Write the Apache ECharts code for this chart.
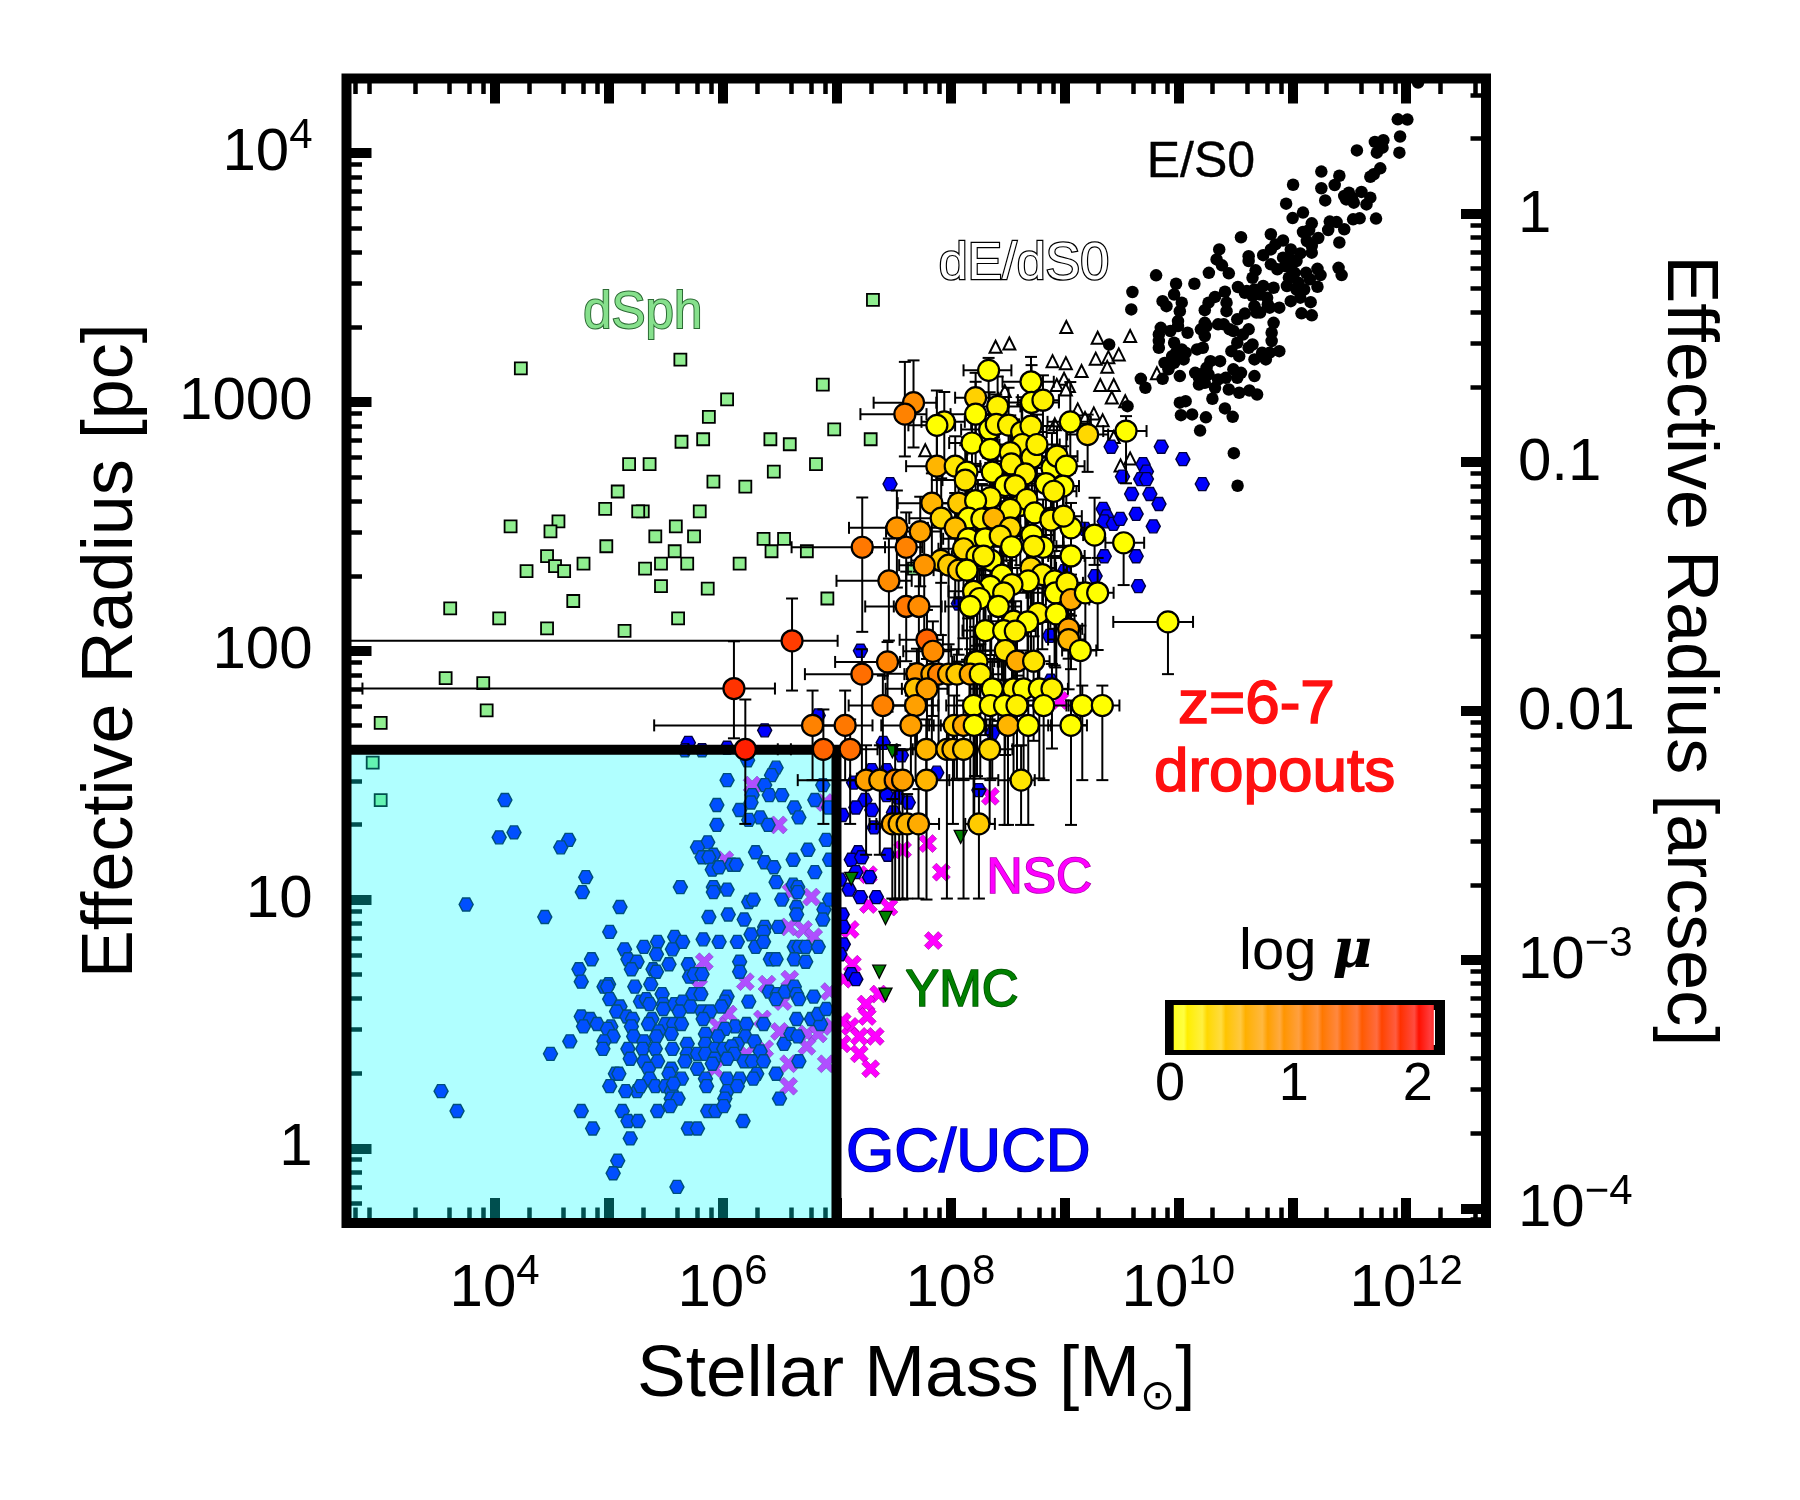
<!DOCTYPE html>
<html>
<head>
<meta charset="utf-8">
<title>Size-mass relation of z=6-7 dropouts and local stellar systems</title>
<script src="https://cdn.jsdelivr.net/npm/echarts@6/dist/echarts.min.js"></script>
<style>
  html, body { margin: 0; padding: 0; background: #fff; }
  #chart { width: 1800px; height: 1500px; }
</style>
</head>
<body>
<div id="chart"></div>
<script>
// Axis ranges, as log10 of stellar mass [Msun], effective radius [pc] and radius [arcsec].
const logMassRange = [2.7, 12.7];
const logRadiusRange = [-0.3, 4.3];
const logArcsecRange = [-4.059, 0.543];
const logMuRange = [0, 2.18];

// Tick positions.
const massMajorTicks = [1e4, 1e5, 1e6, 1e7, 1e8, 1e9, 1e10, 1e11, 1e12];
const massMinorTicks = [6e2, 8e2, 2e3, 4e3, 6e3, 8e3, 2e4, 4e4, 6e4, 8e4, 2e5, 4e5, 6e5, 8e5, 2e6, 4e6, 6e6, 8e6,
  2e7, 4e7, 6e7, 8e7, 2e8, 4e8, 6e8, 8e8, 2e9, 4e9, 6e9, 8e9, 2e10, 4e10, 6e10, 8e10, 2e11, 4e11, 6e11, 8e11, 2e12, 4e12];
const massLabelTicks = [1e4, 1e6, 1e8, 1e10, 1e12];
const radiusMajorTicks = [1, 10, 100, 1000, 10000];
const radiusMinorTicks = [0.6, 0.7, 0.8, 0.9, 2, 3, 4, 5, 6, 7, 8, 9, 20, 30, 40, 50, 60, 70, 80, 90,
  200, 300, 400, 500, 600, 700, 800, 900, 2000, 3000, 4000, 5000, 6000, 7000, 8000, 9000];
const arcsecMajorTicks = [1e-4, 1e-3, 0.01, 0.1, 1];
const arcsecMinorTicks = [9e-5, 2e-4, 3e-4, 4e-4, 5e-4, 6e-4, 7e-4, 8e-4, 9e-4, 2e-3, 3e-3, 4e-3, 5e-3, 6e-3, 7e-3, 8e-3, 9e-3,
  0.02, 0.03, 0.04, 0.05, 0.06, 0.07, 0.08, 0.09, 0.2, 0.3, 0.4, 0.5, 0.6, 0.7, 0.8, 0.9, 2, 3];
const muTicks = [0, 1, 2];

// Boundary of the shaded globular-cluster regime.
const regimeMass = 1e7;
const regimeRadius = 40;

// Each point: [log10 mass, log10 radius].
const dSph = [
  [7.32,3.41],[4.23,3.135],[5.63,3.17],[6.88,3.07],[6.04,3.01],[5.88,2.94],[6.98,2.89],[7.30,2.85],[5.64,2.84],[5.83,2.85],
  [6.42,2.85],[6.59,2.83],[5.18,2.75],[5.36,2.75],[6.82,2.75],[6.45,2.72],[5.92,2.68],[6.20,2.66],[5.08,2.64],[4.97,2.57],
  [5.30,2.56],[5.26,2.56],[5.80,2.56],[4.56,2.52],[4.14,2.50],[4.49,2.48],[5.59,2.50],[5.41,2.46],[5.75,2.46],[6.36,2.45],
  [6.54,2.45],[5.58,2.40],[6.43,2.40],[6.74,2.40],[4.98,2.42],[4.46,2.38],[4.53,2.34],[4.61,2.32],[4.78,2.35],[4.28,2.32],
  [5.32,2.33],[5.46,2.35],[5.69,2.35],[6.15,2.35],[5.46,2.26],[5.87,2.25],[4.69,2.20],[3.61,2.17],[4.04,2.13],[4.46,2.09],
  [5.14,2.08],[5.61,2.13],[6.92,2.21],[7.68,2.33],[3.93,1.76],[3.00,1.71],[2.93,1.55],[3.00,1.40],[3.57,1.89],[3.90,1.87]
];

const dEdS0 = [
  [9.017,3.301],[9.292,3.258],[9.577,3.265],[8.396,3.222],[8.517,3.235],[8.896,3.164],[9.013,3.156],[9.275,3.174],
  [9.386,3.180],[9.477,3.191],[9.376,3.141],[9.151,3.124],[9.812,3.115],[8.997,3.093],[8.933,3.068],[9.040,3.064],
  [9.013,3.050],[9.315,3.068],[9.433,3.068],[9.416,3.018],[9.534,3.003],[8.477,3.044],[9.117,2.970],[9.258,2.954],
  [9.181,2.936],[9.336,2.926],[8.916,2.910],[9.433,2.859],[7.779,2.806],[9.577,2.773],[9.493,2.745]
];

const ellipticals = [
  [11.926,4.136],[12.010,4.135],[11.946,4.067],[11.940,4.002],[11.725,4.045],[11.799,4.052],[11.792,4.022],[11.742,4.002],
  [11.567,4.011],[11.772,3.939],[11.685,3.905],[11.715,3.915],[11.255,3.926],[11.413,3.909],[11.372,3.872],[11.255,3.859],
  [11.007,3.873],[11.289,3.810],[11.497,3.841],[11.456,3.828],[11.523,3.821],[11.607,3.844],[11.685,3.821],[11.651,3.794],
  [11.540,3.801],[11.473,3.814],[10.946,3.797],[11.094,3.761],[11.003,3.739],[11.534,3.734],[11.591,3.738],[11.735,3.737],
  [11.329,3.725],[11.389,3.723],[11.171,3.718],[11.094,3.683],[11.148,3.691],[11.315,3.691],[11.456,3.694],[10.812,3.674],
  [10.550,3.662],[10.919,3.649],[10.852,3.633],[11.228,3.659],[11.128,3.647],[11.413,3.641],[10.359,3.613],[10.745,3.590],
  [10.812,3.613],[10.987,3.613],[11.171,3.627],[11.070,3.597],[10.919,3.580],[11.171,3.600],[10.617,3.586],[10.617,3.566],
  [10.336,3.573],[10.383,3.549],[10.812,3.553],[10.987,3.573],[11.037,3.566],[10.869,3.533],[10.936,3.546],[11.221,3.535],
  [11.406,3.539],[11.433,3.510],[11.248,3.510],[11.121,3.519],[11.154,3.493],[11.221,3.463],[10.443,3.517],[10.268,3.519],
  [10.678,3.529],[10.651,3.499],[10.970,3.499],[9.805,3.509],[10.141,3.475],[9.980,3.475],[9.963,3.432],[9.597,3.442],
  [10.523,3.462],[10.601,3.446],[10.668,3.452],[10.745,3.466],[10.836,3.459],[10.953,3.466],[11.037,3.452],[11.104,3.452],
  [11.070,3.419],[10.987,3.405],[10.886,3.379],[10.779,3.419],[10.718,3.432],[10.651,3.426],[10.409,3.443],[10.322,3.422],
  [10.265,3.399],[10.232,3.369],[10.423,3.399],[10.423,3.365],[9.862,3.405],[9.896,3.385],[10.030,3.399],[10.013,3.365],
  [9.587,3.372],[11.161,3.401],[11.081,3.356],[11.171,3.348],[10.802,3.379],[10.718,3.359],[10.668,3.385],[10.584,3.355],
  [10.517,3.332],[10.836,3.318],[10.399,3.312],[10.450,3.292],[10.232,3.318],[10.198,3.292],[9.997,3.325],[9.846,3.298],
  [9.829,3.271],[9.930,3.285],[10.081,3.278],[10.232,3.265],[10.617,3.292],[10.567,3.271],[10.819,3.278],[10.819,3.245],
  [9.829,3.245],[9.829,3.218],[9.963,3.238],[10.064,3.198],[9.980,3.198],[10.215,3.218],[10.164,3.211],[10.517,3.238],
  [10.466,3.204],[10.651,3.231],[10.617,3.218],[10.735,3.198],[10.802,3.198],[10.886,3.204],[10.534,3.184],[10.768,3.171],
  [10.668,3.171],[10.366,3.164],[10.282,3.164],[10.248,3.137],[9.879,3.157],[10.047,3.171],[9.963,3.157],[9.862,3.093],
  [9.913,3.131],[10.013,3.104],[10.148,3.117],[10.198,3.111],[10.265,3.111],[10.550,3.117],[10.517,3.097],[10.668,3.104],
  [10.416,3.097],[10.349,3.090],[10.181,3.070],[10.232,3.077],[10.322,3.057],[10.443,3.050],[10.534,3.037],[10.624,3.046],
  [10.691,3.030],[9.671,3.093],[9.711,3.057],[10.299,3.013],[10.013,2.997],[10.064,3.003],[10.409,2.974],[10.023,2.947],
  [10.121,2.950],[10.242,2.938],[10.477,2.940],[10.191,2.885],[9.554,2.983],[9.393,3.231],[10.487,2.794],[10.520,2.663],
  [12.104,4.284],[10.987,3.540],[11.020,3.519],[11.054,3.479],[10.584,3.439],[10.785,3.392],[10.685,3.359],[10.349,3.312],
  [10.483,3.285],[10.248,3.305],[9.997,3.305],[10.030,3.211],[9.946,3.184],[10.181,3.097],[10.483,3.131]
];

const globularClusters = [
  [4.09,1.40],[4.04,1.25],[4.17,1.27],[4.65,1.24],[4.58,1.21],[4.80,1.09],[4.77,1.03],[3.75,0.98],[4.44,0.93],[5.10,0.97],
  [5.01,0.87],[3.53,0.23],[3.67,0.15],[4.76,0.15],[5.08,-0.05],[5.04,-0.10],[5.60,-0.155],[4.86,0.08],[5.19,0.04],[5.12,0.15],
  [5.17,0.11],[5.26,0.11],[5.43,0.15],[5.70,0.08],[5.78,0.08],[5.87,0.15],[5.94,0.15],[6.18,0.11],[6.50,0.20],[6.47,0.30],
  [4.49,0.38],[4.66,0.43],[6.47,1.53],[6.43,1.50],[6.04,1.48],[6.37,1.46],[6.26,1.42],[6.25,1.39],[6.41,1.42],[6.52,1.42],
  [5.95,1.38],[6.15,1.36],[6.33,1.33],[6.23,1.32],[6.40,1.30],[5.95,1.30],[6.63,1.37],[6.67,1.33],[6.81,1.40],[6.88,1.46],
  [6.93,1.37],[5.87,1.23],[5.78,1.21],[5.82,1.17],[5.92,1.18],[5.88,1.17],[5.91,1.12],[5.97,1.13],[6.08,1.14],[6.12,1.14],
  [6.29,1.19],[6.37,1.15],[6.45,1.13],[6.62,1.16],[6.75,1.20],[6.91,1.24],[6.94,1.16],[6.81,1.11],[5.63,1.05],[5.92,1.05],
  [5.92,1.03],[6.04,1.04],[6.47,1.07],[6.62,1.06],[6.66,1.05],[6.66,1.03],[6.23,0.99],[6.27,1.00],[6.52,1.00],[6.65,0.97],
  [6.65,0.94],[5.88,0.93],[6.05,0.94],[6.19,0.92],[6.89,0.96],[6.88,0.92],[6.94,1.00],[6.25,0.86],[6.37,0.89],[6.36,0.87],
  [6.49,0.89],[5.83,0.84],[5.97,0.83],[6.13,0.83],[6.29,0.81],[6.36,0.83],[6.63,0.81],[6.67,0.81],[6.73,0.81],[6.84,0.81],
  [5.58,0.85],[5.65,0.83],[5.43,0.83],[5.56,0.80],[5.31,0.81],[5.14,0.80],[5.42,0.78],[6.63,0.76],[6.42,0.76],[6.47,0.76],
  [6.15,0.75],[6.73,0.75],[4.85,0.76],[4.74,0.72],[4.76,0.67],[5.17,0.76],[5.25,0.75],[5.20,0.72],[5.53,0.74],[5.39,0.72],
  [5.42,0.71],[5.70,0.74],[6.15,0.71],[5.71,0.69],[5.75,0.70],[5.82,0.70],[5.23,0.65],[5.37,0.66],[4.96,0.65],[5.00,0.66],
  [4.99,0.65],[5.01,0.60],[5.10,0.57],[5.07,0.55],[5.47,0.62],[5.74,0.62],[5.81,0.62],[6.41,0.63],[6.48,0.62],[6.47,0.60],
  [6.55,0.63],[6.63,0.65],[6.65,0.62],[6.67,0.60],[6.80,0.61],[6.23,0.59],[6.04,0.61],[6.02,0.59],[5.28,0.59],[5.33,0.60],
  [5.36,0.58],[4.76,0.53],[4.84,0.52],[4.90,0.50],[4.78,0.49],[5.02,0.49],[4.99,0.48],[5.04,0.45],[4.96,0.43],[4.95,0.40],
  [5.16,0.53],[5.21,0.52],[5.20,0.49],[5.48,0.58],[5.58,0.58],[5.65,0.59],[5.72,0.57],[5.48,0.56],[5.62,0.55],[5.99,0.57],
  [5.82,0.55],[5.89,0.55],[5.38,0.52],[5.35,0.50],[5.50,0.50],[5.57,0.50],[5.64,0.50],[5.83,0.52],[6.11,0.49],[6.21,0.50],
  [6.36,0.50],[6.65,0.52],[6.78,0.52],[6.86,0.50],[6.84,0.54],[6.91,0.56],[6.02,0.48],[5.96,0.45],[5.85,0.46],[5.55,0.46],
  [5.44,0.47],[5.42,0.45],[5.22,0.45],[5.31,0.43],[5.69,0.42],[6.20,0.45],[6.28,0.43],[6.54,0.42],[6.60,0.46],[6.66,0.45],
  [5.17,0.40],[5.19,0.36],[5.30,0.40],[5.41,0.40],[5.56,0.40],[5.69,0.38],[5.85,0.42],[5.93,0.40],[6.01,0.40],[6.13,0.42],
  [6.08,0.41],[6.10,0.38],[6.33,0.39],[5.31,0.35],[5.43,0.35],[5.35,0.32],[5.55,0.32],[5.67,0.35],[5.78,0.38],[5.85,0.38],
  [5.93,0.36],[6.04,0.36],[6.19,0.35],[6.26,0.35],[6.36,0.35],[6.67,0.35],[5.78,0.32],[5.91,0.34],[5.53,0.30],[5.64,0.28],
  [5.06,0.30],[5.09,0.30],[5.01,0.25],[5.36,0.28],[5.25,0.23],[5.28,0.25],[5.41,0.25],[5.50,0.25],[5.55,0.23],[5.57,0.26],
  [5.85,0.28],[5.86,0.25],[6.04,0.28],[6.15,0.28],[6.30,0.30],[6.27,0.28],[6.04,0.23],[6.13,0.25],[5.55,0.20],[5.61,0.20],
  [5.54,0.17],[6.02,0.20],[6.01,0.17],[5.15,0.23],
  [7.19,1.19],[7.13,1.16],[7.22,1.17],[7.17,1.11],[7.29,1.09],[7.11,1.04],[7.21,1.01],[7.35,1.01],[7.03,1.08],[7.45,1.18],
  [8.25,1.44],[7.41,1.63],[7.57,1.58],[7.31,1.52],[7.44,1.52],[7.15,1.47],[7.88,1.51],[7.25,1.40],[7.44,1.42],[7.54,1.41],
  [7.63,1.39],[7.17,1.37],[7.31,1.36],[7.50,1.35],[7.05,1.34],[7.33,1.29],[7.05,0.94],[7.06,0.89],[7.06,0.82],[7.03,0.78],
  [7.13,0.70],[7.17,0.68],[8.37,1.67],[7.47,2.67],[9.41,2.82],[9.85,2.82],[10.04,2.77],[10.21,2.67],[9.51,2.70],[9.69,2.75],
  [9.72,2.72],[9.67,2.69],[9.72,2.69],[9.59,2.63],[9.75,2.63],[9.83,2.59],[9.63,2.55],[9.34,2.57],[9.37,2.54],[9.35,2.52],
  [9.43,2.51],[9.49,2.53],[9.78,2.50],[9.35,2.38],[9.63,2.38],[9.27,2.30],[9.65,2.26],[9.00,2.32],[8.87,2.06],[7.21,2.00],
  [9.18,2.49],[8.07,2.19],[8.88,1.88],[5.70,1.63],[5.82,1.60],[6.04,1.61],[5.67,1.60],[6.37,1.68],[6.84,1.74],[6.22,1.56]
];

const nuclearClusters = [
  [6.26,1.46],[6.49,1.30],[6.02,1.16],[6.78,1.01],[6.58,0.89],[6.71,0.88],[6.80,0.85],[5.84,0.75],[6.20,0.67],[6.39,0.66],
  [6.59,0.68],[5.79,0.65],[6.53,0.59],[6.05,0.54],[6.35,0.52],[5.96,0.49],[6.50,0.47],[6.74,0.46],[6.84,0.46],[6.74,0.41],
  [6.37,0.40],[6.21,0.38],[6.58,0.34],[5.93,0.32],[6.91,0.34],[6.58,0.25],[6.94,0.63],[6.96,0.49],[6.90,1.39],[6.60,1.03],
  [8.35,1.415],[7.80,1.225],[7.58,1.20],[7.92,1.11],[7.28,1.10],[7.46,0.97],[7.28,0.98],[7.85,0.835],[7.12,0.88],[7.14,0.74],
  [7.06,0.68],[7.37,0.62],[7.26,0.58],[7.27,0.53],[7.12,0.49],[7.34,0.45],[7.20,0.45],[7.20,0.38],[7.30,0.32],[7.05,0.51],
  [7.05,0.42],[8.96,1.80]
];

const youngClusters = [[8.09,1.252],[7.13,1.083],[7.43,0.926],[7.375,0.71],[7.43,0.618],[7.49,1.596]];

// Each dropout: [log10 mass, log10 radius, log10 magnification, mass err low, mass err high, radius err low, radius err high].
const dropouts = [
  [8.335,3.127,0,.22,.2,.18,.05],[8.707,3.081,0,.25,.2,.16,.1],[7.676,2.997,1.0,.35,.2,.18,.17],[7.600,2.951,1.1,.39,.19,.17,.21],
  [7.946,2.920,.1,.2,.18,.2,.12],[7.881,2.906,0,.25,.16,.22,.14],[8.221,3.017,.35,.18,.2,.2,.1],[8.414,2.982,.1,.24,.2,.22,.12],
  [8.712,2.998,0,.2,.24,.16,.15],[8.812,3.007,.1,.22,.14,.2,.1],[8.221,2.951,0,.22,.22,.2,.13],[9.052,2.920,0,.2,.18,.14,.16],
  [9.204,2.869,.3,.18,.18,.15,.08],[9.541,2.883,0,.2,.18,.21,.06],[8.344,2.889,0,.25,.2,.24,.15],[8.402,2.910,.1,.22,.2,.2,.12],
  [8.510,2.907,.1,.22,.2,.2,.15],[8.625,2.879,.1,.2,.22,.22,.14],[8.707,2.903,.1,.25,.2,.22,.16],[8.189,2.835,0,.2,.2,.22,.18],
  [8.630,2.829,.1,.2,.2,.2,.16],[8.350,2.809,0,.2,.25,.24,.14],[8.525,2.796,.1,.24,.2,.2,.15],[8.715,2.776,.1,.2,.22,.24,.12],
  [8.759,2.829,.1,.22,.2,.25,.12],[7.881,2.742,.6,.27,.2,.22,.16],[8.042,2.742,.2,.2,.22,.24,.12],[8.145,2.718,0,.22,.2,.25,.14],
  [8.130,2.686,.2,.2,.22,.25,.14],[8.367,2.718,0,.22,.2,.26,.18],[8.534,2.751,.1,.2,.22,.22,.14],[8.657,2.711,.1,.22,.24,.25,.16],
  [8.891,2.735,0,.22,.2,.24,.14],[8.935,2.782,.1,.22,.18,.22,.12],[9.017,2.742,0,.18,.16,.2,.16],[8.838,2.672,0,.24,.2,.26,.14],
  [8.988,2.662,0,.2,.14,.24,.16],[8.481,2.664,0,.24,.2,.22,.14],[8.569,2.664,.1,.22,.22,.24,.15],[8.906,2.641,.1,.22,.2,.22,.14],
  [7.837,2.593,.6,.3,.2,.24,.12],[8.072,2.593,.4,.22,.2,.24,.14],[8.350,2.615,.1,.2,.2,.28,.14],[8.221,2.603,0,.22,.2,.26,.14],
  [8.613,2.584,0,.22,.2,.24,.14],[8.671,2.608,.1,.2,.22,.26,.16],[8.525,2.568,.1,.2,.2,.28,.16],[8.739,2.554,0,.22,.2,.3,.14],
  [7.919,2.533,.3,.28,.2,.26,.16],[8.159,2.533,0,.22,.2,.28,.15],[8.276,2.530,.1,.22,.2,.3,.14],[8.379,2.533,.6,.2,.22,.3,.15],
  [8.885,2.533,0,.2,.2,.26,.16],[8.882,2.525,.1,.2,.2,.26,.14],[9.058,2.494,0,.24,.12,.22,.1],[8.993,2.541,.1,.22,.16,.24,.14],
  [7.530,2.494,.9,.42,.16,.24,.15],[7.735,2.479,.75,.3,.18,.22,.14],[8.042,2.494,.5,.24,.2,.28,.14],[8.525,2.494,.3,.22,.2,.3,.14],
  [8.715,2.465,0,.2,.2,.32,.14],[9.265,2.465,0,.1,.08,.12,.15],[9.520,2.434,0,.16,.18,.17,.03],[8.156,2.450,0,.22,.2,.32,.14],
  [8.306,2.450,0,.2,.2,.34,.14],[8.437,2.461,.2,.2,.22,.32,.14],[7.612,2.416,1.1,.3,.14,.24,.14],[7.226,2.416,1.2,.62,.2,.34,.2],
  [8.537,2.418,0,.22,.2,.34,.14],[8.812,2.416,0,.22,.18,.3,.15],[8.730,2.420,.1,.22,.2,.3,.15],[8.115,2.410,.3,.22,.2,.36,.14],
  [9.058,2.381,0,.2,.12,.24,.12],[7.916,2.363,.4,.26,.18,.3,.14],[7.770,2.344,.9,.22,.2,.3,.14],[8.233,2.380,.1,.22,.2,.36,.14],
  [8.358,2.363,0,.2,.22,.38,.14],[8.291,2.380,.1,.2,.2,.38,.16],[7.984,2.344,.4,.22,.2,.34,.15],[8.072,2.324,.4,.22,.2,.34,.14],
  [8.145,2.324,0,.22,.22,.36,.12],[8.452,2.304,0,.2,.2,.42,.14],[7.460,2.281,1.0,.46,.2,.24,.17],[8.707,2.333,.3,.2,.22,.34,.14],
  [8.806,2.306,.1,.22,.2,.3,.14],[8.683,2.281,0,.2,.2,.32,.15],[8.914,2.281,0,.2,.16,.34,.12],[8.350,2.259,0,.2,.22,.42,.12],
  [8.540,2.266,.1,.22,.2,.42,.14],[8.203,2.239,.1,.22,.2,.44,.12],[8.467,2.233,.1,.2,.2,.4,.15],[8.920,2.233,0,.22,.18,.3,.14],
  [9.023,2.273,.1,.2,.14,.26,.12],[9.058,2.206,.7,.22,.16,.28,.1],[9.184,2.233,0,.16,.12,.23,.14],[9.292,2.233,0,.1,.14,.23,.14],
  [8.256,2.210,0,.22,.2,.44,.12],[8.174,2.178,0,.22,.2,.46,.14],[8.420,2.178,0,.2,.2,.46,.12],[7.612,2.178,1.2,.36,.16,.22,.14],
  [7.723,2.178,1.0,.22,.2,.26,.14],[8.768,2.150,.1,.22,.18,.28,.1],[8.929,2.148,0,.2,.16,.3,.14],[8.554,2.119,.1,.22,.2,.32,.12],
  [8.677,2.116,0,.2,.2,.3,.12],[9.909,2.116,0,.48,.22,.21,.02],[8.306,2.081,0,.2,.2,.42,.12],[8.467,2.081,0,.2,.2,.36,.14],
  [8.569,2.079,.1,.2,.18,.36,.12],[7.794,2.044,1.4,.24,.14,.2,.12],[7.846,1.998,1.0,.26,.16,.26,.12],[9.037,2.088,.8,.18,.12,.12,.1],
  [9.037,2.045,.6,.18,.14,.2,.1],[9.140,2.001,0,.16,.14,.3,.1],[8.481,2.001,.2,.2,.2,.42,.12],[8.584,1.958,.7,.2,.16,.34,.12],
  [8.730,1.958,.2,.16,.14,.32,.1],[7.448,1.955,1.1,.46,.11,.2,.08],[7.223,1.906,1.3,.5,.2,.4,.1],[8.215,1.956,0,.2,.2,.46,.14],
  [8.233,1.956,.1,.2,.2,.46,.1],[7.706,1.908,.9,.26,.16,.3,.1],[7.837,1.906,.7,.22,.2,.3,.12],[7.896,1.906,1.1,.3,.2,.3,.1],
  [7.984,1.906,.6,.22,.2,.3,.12],[8.057,1.906,.4,.22,.2,.42,.1],[8.174,1.906,.7,.2,.2,.42,.1],[8.262,1.906,.1,.2,.2,.42,.12],
  [7.691,1.847,.45,.26,.14,.24,.1],[7.794,1.847,.8,.22,.18,.24,.12],[8.367,1.847,0,.2,.2,.36,.12],[8.554,1.847,.1,.18,.2,.36,.1],
  [8.642,1.847,0,.2,.16,.36,.12],[8.780,1.847,0,.2,.14,.36,.1],[8.891,1.847,.1,.14,.14,.24,.1],
  [7.407,1.780,1.1,.3,.2,.3,.12],[7.694,1.780,.8,.24,.2,.3,.1],[8.203,1.780,0,.24,.2,.48,.12],[8.350,1.780,.05,.22,.2,.3,.1],
  [8.475,1.780,0,.2,.2,.48,.1],[8.584,1.780,.1,.22,.16,.3,.12],[8.818,1.780,0,.18,.2,.3,.1],[9.157,1.780,0,.12,.1,.3,.08],
  [9.333,1.780,0,.1,.15,.3,.08],
  [6.79,1.700,1.1,1.39,.26,.22,.14],[7.076,1.700,1.2,.26,.24,.22,.14],[7.653,1.700,.8,.26,.2,.22,.12],[8.033,1.700,.4,.22,.2,.22,.12],
  [8.115,1.700,.7,.2,.2,.22,.1],[8.209,1.700,0,.2,.22,.4,.12],[8.505,1.700,.6,.2,.2,.4,.12],[8.683,1.700,0,.22,.2,.4,.1],
  [9.058,1.700,0,.2,.14,.4,.1],
  [6.885,1.604,1.4,.4,.26,.3,.16],[7.12,1.604,1.3,.3,.24,.3,.12],[7.788,1.604,.6,.26,.2,.3,.12],[7.969,1.604,.5,.3,.2,.6,.1],
  [8.022,1.604,.5,.26,.2,.3,.12],[8.115,1.604,.4,.22,.2,.6,.1],[8.344,1.604,.3,.2,.2,.3,.12],
  [7.26,1.480,.8,.6,.16,.3,.14],[7.38,1.480,.7,.26,.16,.3,.14],[7.515,1.480,1.0,.22,.2,.48,.14],[7.58,1.480,.8,.22,.16,.48,.12],
  [7.79,1.480,.6,.2,.2,.48,.12],[8.62,1.480,.2,.2,.12,.18,.14],
  [7.49,1.304,.7,.2,.16,.3,.1],[7.55,1.304,.6,.2,.18,.3,.14],[7.62,1.304,.6,.2,.16,.3,.12],[7.72,1.304,.7,.2,.18,.3,.14],
  [8.25,1.304,.4,.12,.14,.3,.14],
  [6.61,2.040,1.8,3.9,.4,.2,.17],[6.10,1.848,1.9,3.26,.36,.2,.19],[6.20,1.604,2.1,.5,.4,.3,.2]
];

// Colour key: edges of the colour bands in log mu, with the deep and pale shade of each band.
const muBandEdges = [0.03, 0.14, 0.30, 0.45, 0.61, 0.79, 0.92, 1.08, 1.23, 1.39, 1.55, 1.71, 1.86, 2.01, 2.13];
const muBandDeep = ['#ffff20', '#ffee00', '#ffd800', '#ffc400', '#ffb000', '#ffa000', '#ff9500', '#ff8400', '#ff7800', '#ff6c00', '#ff5a00', '#ff4400', '#ff3000', '#ff1000', '#ff3030'];
const muBandPale = ['#ffff40', '#fff040', '#ffdc40', '#ffc840', '#ffb840', '#ffaa40', '#ffa040', '#ff9440', '#ff8840', '#ff7c40', '#ff6c40', '#ff5c40', '#ff4c40', '#ff3c3c', '#ff3c3c'];
// Marker colour against log mu.
const muColorStops = [[0, '#ffff00'], [0.45, '#ffc400'], [1, '#ff8c00'], [1.5, '#ff5a00'], [2.2, '#ff1500']];

// Population names with their position on the plot, as [text, log mass, log radius, colour, size, outline colour, outline width].
const populationLabels = [
  ['dSph', 5.30, 3.354, '#86e08c', 51, '#2c6a34', 2],
  ['dE/dS0', 8.645, 3.553, '#ffffff', 52, '#000000', 2.4],
  ['E/S0', 10.198, 3.958, '#000000', 50, '#000000', 0.4],
  ['z=6-7', 10.685, 1.78, '#ff1010', 62, '#ff1010', 1.6],
  ['dropouts', 10.845, 1.505, '#ff1010', 62, '#ff1010', 1.6],
  ['NSC', 8.78, 1.08, '#ff00ff', 50, '#b000b0', 1.6],
  ['YMC', 8.10, 0.628, '#008000', 51, '#005000', 1.6],
  ['GC/UCD', 8.157, -0.024, '#0000ff', 62, '#000090', 1.6]
];

const tickFont = '"Liberation Sans", sans-serif';
const textFont = '"Liberation Sans", sans-serif';
const pow10 = (v) => Math.pow(10, v);
const toLinear = (rows) => rows.map((p) => [pow10(p[0]), pow10(p[1])]);
const massMin = pow10(logMassRange[0]), massMax = pow10(logMassRange[1]);
const radiusMin = pow10(logRadiusRange[0]), radiusMax = pow10(logRadiusRange[1]);

function muColor(mu) {
  for (let i = 1; i < muColorStops.length; i++) {
    if (mu <= muColorStops[i][0]) {
      const [a, ca] = muColorStops[i - 1];
      const [b, cb] = muColorStops[i];
      return echarts.color.lerp((mu - a) / (b - a), [ca, cb]);
    }
  }
  return muColorStops[muColorStops.length - 1][1];
}

const powerLabel = (v) => {
  const e = Math.round(Math.log10(v));
  return '{base|10}{sup|' + String(e).replace('-', '\u2212') + '}';
};
const tickRich = {
  base: { fontFamily: tickFont, fontSize: 60, lineHeight: 68, color: '#000', verticalAlign: 'bottom' },
  plain: { fontFamily: tickFont, fontSize: 60, lineHeight: 68, color: '#000', verticalAlign: 'bottom' },
  sup: { fontFamily: tickFont, fontSize: 42, lineHeight: 68, color: '#000', verticalAlign: 'top' }
};

function tickAxis(kind, gridIndex, position, logRange, ticks, length, width, extra) {
  return Object.assign({
    type: 'log', logBase: 10, gridIndex, position,
    min: pow10(logRange[0]), max: pow10(logRange[1]),
    axisLine: { show: false, onZero: false },
    axisTick: { show: true, inside: true, length, customValues: ticks, lineStyle: { color: '#000', width, cap: 'butt' } },
    axisLabel: { show: false },
    splitLine: { show: false },
    minorTick: { show: false }, minorSplitLine: { show: false }
  }, extra || {});
}

const massLabelExtra = {
  name: 'Stellar Mass [M{sun|\u2299}]',
  nameLocation: 'middle', nameGap: 110,
  nameTextStyle: {
    fontFamily: textFont, fontSize: 73, color: '#000',
    rich: { sun: { fontFamily: '"DejaVu Sans", sans-serif', fontSize: 42, color: '#000', verticalAlign: 'bottom', padding: [44, 0, 0, 0] } }
  },
  axisLabel: {
    show: true, margin: 28, customValues: massLabelTicks,
    formatter: powerLabel, rich: tickRich
  }
};
const radiusLabelExtra = {
  name: 'Effective Radius [pc]',
  nameLocation: 'middle', nameGap: 198, nameRotate: 90,
  nameTextStyle: { fontFamily: textFont, fontSize: 72, color: '#000' },
  axisLabel: {
    show: true, margin: 34, customValues: radiusMajorTicks, padding: [0, 0, 7, 0],
    formatter: (v) => v >= 10000 ? powerLabel(v) : '{plain|' + Math.round(v) + '}',
    rich: tickRich
  }
};
const arcsecLabelExtra = {
  name: 'Effective Radius [arcsec]',
  nameLocation: 'middle', nameGap: 166, nameRotate: -90,
  nameTextStyle: { fontFamily: textFont, fontSize: 72, color: '#000' },
  axisLabel: {
    show: true, margin: 32, customValues: arcsecMajorTicks, padding: [0, 0, 5, 0],
    formatter: (v) => {
      if (v >= 0.999) return '{plain|1}';
      if (v >= 0.05) return '{plain|0.1}';
      if (v >= 0.005) return '{plain|0.01}';
      return powerLabel(v);
    },
    rich: tickRich
  }
};

const xAxes = [
  tickAxis('x', 0, 'bottom', logMassRange, massMajorTicks, 25, 10, massLabelExtra),
  tickAxis('x', 0, 'bottom', logMassRange, massMinorTicks, 15.5, 4.5),
  tickAxis('x', 0, 'top', logMassRange, massMajorTicks, 25, 10),
  tickAxis('x', 0, 'top', logMassRange, massMinorTicks, 15.5, 4.5),
  {
    type: 'value', gridIndex: 1, position: 'bottom', min: logMuRange[0], max: logMuRange[1],
    axisLine: { show: false, onZero: false }, splitLine: { show: false },
    axisTick: { show: true, inside: true, length: 8, customValues: muTicks, lineStyle: { color: '#000', width: 1 } },
    axisLabel: { show: true, margin: 8, customValues: muTicks, fontFamily: tickFont, fontSize: 54, color: '#000', hideOverlap: false }
  }
];
const yAxes = [
  tickAxis('y', 0, 'left', logRadiusRange, radiusMajorTicks, 25, 10, radiusLabelExtra),
  tickAxis('y', 0, 'left', logRadiusRange, radiusMinorTicks, 15.5, 4.5),
  tickAxis('y', 0, 'right', logArcsecRange, arcsecMajorTicks, 25, 10, arcsecLabelExtra),
  tickAxis('y', 0, 'right', logArcsecRange, arcsecMinorTicks, 15.5, 4.5),
  { type: 'value', gridIndex: 1, min: 0, max: 1, show: false }
];

const hexagon = 'path://M-2 0 L-1 1.73 L1 1.73 L2 0 L1 -1.73 L-1 -1.73 Z';
const cross = 'path://M-5 -2.7 L-2.7 -5 L0 -2.3 L2.7 -5 L5 -2.7 L2.3 0 L5 2.7 L2.7 5 L0 2.3 L-2.7 5 L-5 2.7 L-2.3 0 Z';

function pointSeries(name, rows, z, symbol, symbolSize, itemStyle, extra) {
  return Object.assign({
    name, type: 'scatter', xAxisIndex: 0, yAxisIndex: 0, data: toLinear(rows), z, symbol, symbolSize,
    itemStyle: Object.assign({ opacity: 1 }, itemStyle),
    silent: true, clip: false, animation: false, large: false
  }, extra || {});
}

function renderRect(fill, stroke, lineWidth) {
  return (params, api) => {
    const a = api.coord([api.value(0), api.value(1)]);
    const b = api.coord([api.value(2), api.value(3)]);
    return {
      type: 'rect',
      shape: { x: Math.min(a[0], b[0]), y: Math.min(a[1], b[1]), width: Math.abs(b[0] - a[0]), height: Math.abs(b[1] - a[1]) },
      style: { fill, stroke, lineWidth }
    };
  };
}

function renderErrorBars(params, api) {
  const cap = 6;
  const c = api.coord([api.value(0), api.value(1)]);
  const left = api.coord([api.value(2), api.value(1)])[0];
  const right = api.coord([api.value(3), api.value(1)])[0];
  const low = api.coord([api.value(0), api.value(4)])[1];
  const high = api.coord([api.value(0), api.value(5)])[1];
  const style = { stroke: '#000', lineWidth: 2 };
  const line = (x1, y1, x2, y2) => ({ type: 'line', shape: { x1, y1, x2, y2 }, style });
  return {
    type: 'group',
    children: [
      line(left, c[1], right, c[1]),
      line(left, c[1] - cap, left, c[1] + cap),
      line(right, c[1] - cap, right, c[1] + cap),
      line(c[0], high, c[0], low),
      line(c[0] - cap, high, c[0] + cap, high),
      line(c[0] - cap, low, c[0] + cap, low)
    ]
  };
}

function renderRegimeEdge(params, api) {
  const corner = api.coord([api.value(0), api.value(1)]);
  const bottom = api.coord([api.value(0), api.value(3)])[1];
  const left = api.coord([api.value(2), api.value(1)])[0];
  return {
    type: 'polyline',
    shape: { points: [[left, corner[1]], corner, [corner[0], bottom]] },
    style: { fill: 'none', stroke: '#000', lineWidth: 10 }
  };
}

function muKeyGradient() {
  const span = muBandEdges[muBandEdges.length - 1] - muBandEdges[0];
  const at = (m) => (m - muBandEdges[0]) / span;
  const stops = [];
  muBandEdges.forEach((edge, i) => {
    stops.push({ offset: at(edge), color: muBandDeep[i] });
    if (i < muBandEdges.length - 1) {
      const next = muBandEdges[i + 1];
      stops.push({ offset: at(edge + (next - edge) * 0.75), color: muBandPale[i] });
    }
  });
  return new echarts.graphic.LinearGradient(0, 0, 1, 0, stops);
}

const labelItems = populationLabels.map(([text, m, r, color, size, outline, outlineWidth]) => ({
  value: [pow10(m), pow10(r)],
  itemStyle: { opacity: 1 },
  label: {
    show: true, position: 'inside', formatter: text, align: 'center', verticalAlign: 'middle', opacity: 1,
    fontFamily: textFont, fontSize: size, color, textBorderColor: outline, textBorderWidth: outlineWidth
  }
}));
// Title of the colour key.
labelItems.push({
  value: [pow10(11.117), pow10(0.786)],
  itemStyle: { opacity: 1 },
  label: {
    show: true, position: 'inside', align: 'center', verticalAlign: 'middle', opacity: 1,
    formatter: '{t|log }{m|\u03bc}',
    rich: {
      t: { fontFamily: textFont, fontSize: 58, color: '#000' },
      m: { fontFamily: '"DejaVu Serif", serif', fontStyle: 'italic', fontWeight: 'bold', fontSize: 54, color: '#000' }
    }
  }
});

const option = {
  backgroundColor: '#ffffff',
  animation: false,
  grid: [
    { left: 346.5, right: 314, top: 78.5, height: 1144.5, show: false },
    { left: 1170, width: 270, top: 1005, height: 45, show: true, borderColor: '#000', borderWidth: 10, backgroundColor: 'transparent', z: 60 }
  ],
  xAxis: xAxes,
  yAxis: yAxes,
  series: [
    pointSeries('dSph', dSph, 3, 'rect', 12, { color: '#90ee90', borderColor: '#000', borderWidth: 1.8 }),
    pointSeries('dE/dS0', dEdS0, 4, 'triangle', 12, { color: '#fff', borderColor: '#000', borderWidth: 2 }),
    pointSeries('E/S0', ellipticals, 5, 'circle', 12.5, { color: '#000' }),
    pointSeries('NSC', nuclearClusters, 6, cross, 18, { color: '#ff00ff', borderColor: '#a000a0', borderWidth: 0.6 }),
    pointSeries('GC/UCD', globularClusters, 7, hexagon, [14, 13], { color: '#0000ff', borderColor: '#000040', borderWidth: 1.4 }),
    pointSeries('YMC', youngClusters, 8, 'triangle', 13, { color: '#008000', borderColor: '#000', borderWidth: 1.3 }, { symbolRotate: 180 }),
    {
      name: 'regime shade', type: 'custom', xAxisIndex: 0, yAxisIndex: 0, z: 15, silent: true, clip: false,
      data: [[massMin, radiusMin, regimeMass, regimeRadius]],
      encode: { x: [0, 2], y: [1, 3] },
      renderItem: renderRect('rgba(0,255,255,0.31)', 'none', 0)
    },
    {
      name: 'frame', type: 'custom', xAxisIndex: 0, yAxisIndex: 0, z: 20, silent: true, clip: false,
      data: [[massMin, radiusMin, massMax, radiusMax]],
      encode: { x: [0, 2], y: [1, 3] },
      renderItem: renderRect('none', '#000', 10)
    },
    {
      name: 'regime edge', type: 'custom', xAxisIndex: 0, yAxisIndex: 0, z: 21, silent: true, clip: false,
      data: [[regimeMass, regimeRadius, massMin, radiusMin]],
      encode: { x: [0, 2], y: [1, 3] },
      renderItem: renderRegimeEdge
    },
    {
      name: 'dropout errors', type: 'custom', xAxisIndex: 0, yAxisIndex: 0, z: 30, silent: true, clip: false,
      data: dropouts.map((d) => [pow10(d[0]), pow10(d[1]), Math.max(pow10(d[0] - d[3]), massMin), pow10(d[0] + d[4]), pow10(d[1] - d[5]), pow10(d[1] + d[6])]),
      encode: { x: [0, 2, 3], y: [1, 4, 5] },
      renderItem: renderErrorBars
    },
    {
      name: 'z=6-7 dropouts', type: 'scatter', xAxisIndex: 0, yAxisIndex: 0, z: 31, silent: true, clip: false,
      symbol: 'circle', symbolSize: 21,
      data: dropouts.map((d) => ({
        value: [pow10(d[0]), pow10(d[1])],
        itemStyle: { color: muColor(d[2]), borderColor: '#000', borderWidth: 2.2, opacity: 1 }
      }))
    },
    {
      name: 'population labels', type: 'scatter', xAxisIndex: 0, yAxisIndex: 0, z: 40, silent: true, clip: false,
      symbolSize: 1, itemStyle: { color: 'rgba(0,0,0,0)', opacity: 1 }, data: labelItems
    },
    {
      name: 'log mu key', type: 'custom', xAxisIndex: 4, yAxisIndex: 4, z: 61, silent: true, clip: false,
      data: [[muBandEdges[0], 0, muBandEdges[muBandEdges.length - 1], 1]],
      encode: { x: [0, 2], y: [1, 3] },
      renderItem: renderRect(muKeyGradient(), 'none', 0)
    }
  ]
};

const chart = echarts.init(document.getElementById('chart'), null, { renderer: 'canvas', width: 1800, height: 1500 });
chart.setOption(option);
</script>
</body>
</html>
